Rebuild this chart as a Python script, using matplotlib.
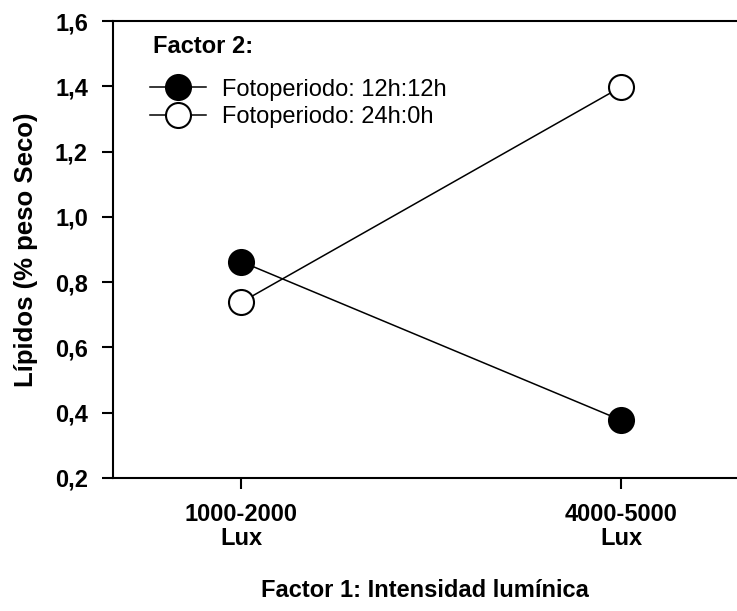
import matplotlib
matplotlib.use("Agg")
import matplotlib.pyplot as plt

# data
categories = ["1000-2000\nLux", "4000-5000\nLux"]
foto_12h = [0.863, 0.377]
foto_24h = [0.738, 1.398]
yticks = [0.2, 0.4, 0.6, 0.8, 1.0, 1.2, 1.4, 1.6]

plt.rcParams["font.family"] = ["Liberation Sans", "DejaVu Sans"]

fig = plt.figure(figsize=(7.37, 6.11), dpi=100)
ax = fig.add_axes([0.1533, 0.2177, 0.8467, 0.7479])

x = [0, 1]
ax.plot(x, foto_12h, color="black", linewidth=1.1, marker="o", markersize=18,
        markerfacecolor="black", markeredgecolor="black", markeredgewidth=1.5,
        label="Fotoperiodo: 12h:12h")
ax.plot(x, foto_24h, color="black", linewidth=1.1, marker="o", markersize=18,
        markerfacecolor="white", markeredgecolor="black", markeredgewidth=1.5,
        label="Fotoperiodo: 24h:0h")

ax.set_xlim(-0.337, 1.305)
ax.set_ylim(0.2, 1.6)
ax.set_xticks(x)
ax.set_xticklabels(categories, fontsize=17, fontweight="bold", linespacing=1.05)
ax.set_yticks(yticks)
ax.set_yticklabels([f"{v:.1f}".replace(".", ",") for v in yticks],
                   fontsize=17, fontweight="bold")

ax.spines["right"].set_visible(False)
for s in ["left", "bottom", "top"]:
    ax.spines[s].set_linewidth(1.5)
ax.tick_params(direction="out", length=8, width=1.5, pad=10)

ax.set_xlabel("Factor 1: Intensidad lumínica", fontsize=17, fontweight="bold",
              labelpad=21)
ax.set_ylabel("Lípidos (% peso Seco)", fontsize=18.5, fontweight="bold",
              labelpad=12)

# legend title drawn separately to get the larger gap above the entries
ax.text(0.064, 0.945, "Factor 2:", transform=ax.transAxes, fontsize=17,
        fontweight="bold", ha="left", va="center")
leg = ax.legend(loc="upper left", frameon=False,
                fontsize=17, handlelength=2.4,
                handletextpad=0.64, labelspacing=0.25,
                borderpad=0, borderaxespad=0,
                bbox_to_anchor=(0.059, 0.874))

plt.savefig("out.png", dpi=100)
